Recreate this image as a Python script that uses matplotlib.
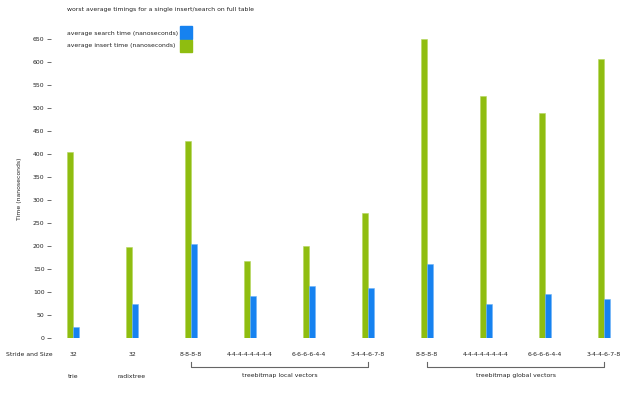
import numpy as np
import matplotlib
matplotlib.use('Agg')
import matplotlib.pyplot as plt
from matplotlib.patches import Rectangle
from matplotlib.transforms import blended_transform_factory

# ---- data ------------------------------------------------------------------
strides = ['32', '32', '8-8-8-8', '4-4-4-4-4-4-4-4', '6-6-6-6-4-4',
           '3-4-4-6-7-8', '8-8-8-8', '4-4-4-4-4-4-4-4', '6-6-6-6-4-4',
           '3-4-4-6-7-8']
insert_ns = [405, 198, 429, 168, 201, 272, 650, 526, 489, 607]
search_ns = [25, 75, 204, 92, 113, 108, 160, 75, 95, 85]
yticks = list(range(0, 651, 50))

single_labels = {0: 'trie', 1: 'radixtree'}
groups = [(2, 5, 'treebitmap local vectors'),
          (6, 9, 'treebitmap global vectors')]

title = 'worst average timings for a single insert/search on full table'
lab_search = 'average search time (nanoseconds)'
lab_insert = 'average insert time (nanoseconds)'

green = '#8fbd10'
blue = '#1682f0'
txt = '#222222'
fs = 4.4

W, H = 640, 396
fig = plt.figure(figsize=(W / 100, H / 100), dpi=100)
plt.rcParams['font.family'] = 'DejaVu Sans'


def fx(px):
    return px / W


def fy(py):
    return 1 - py / H


# axes: x index 0 at px 73, index 9 at px 604 -> 59 px per unit
ax_l, ax_r = 51, 640
ax_t, ax_b = 39, 338
ax = fig.add_axes([fx(ax_l), fy(ax_b), fx(ax_r - ax_l), (ax_b - ax_t) / H])
step = (604 - 73) / 9.0
ax.set_xlim(-(73 - ax_l) / step, 9 + (ax_r - 604) / step)
ax.set_ylim(0, 650)

x = np.arange(len(strides))
bw = 6.4 / step
ax.bar(x - bw / 2, insert_ns, bw, color=green, edgecolor='#b5d65c',
       linewidth=0.4)
ax.bar(x + bw / 2, search_ns, bw, color=blue, edgecolor='#6fb3f7',
       linewidth=0.4)

for s in ax.spines.values():
    s.set_visible(False)
ax.set_yticks(yticks)
ax.set_yticklabels([str(t) for t in yticks])
ax.tick_params(axis='y', length=3.2, width=0.6, color='#555555', pad=1.5,
               labelsize=fs, labelcolor=txt)
ax.set_xticks([])
ax.set_ylabel('Time (nanoseconds)', fontsize=fs, color=txt, labelpad=8)

# title and legend
fig.text(fx(67), fy(10), title, fontsize=fs, color=txt, va='center')
fig.text(fx(67), fy(33), lab_search, fontsize=fs, color=txt, va='center')
fig.text(fx(67), fy(45.5), lab_insert, fontsize=fs, color=txt, va='center')
fig.patches.append(Rectangle((fx(180), fy(39)), fx(12), 12.5 / H,
                             transform=fig.transFigure, color=blue))
fig.patches.append(Rectangle((fx(180), fy(52)), fx(12), 12.5 / H,
                             transform=fig.transFigure, color=green))

# x labels
tr = blended_transform_factory(ax.transData, fig.transFigure)
fig.text(fx(29), fy(355), 'Stride and Size', fontsize=fs, color=txt,
         ha='center', va='center')
for i, s in enumerate(strides):
    ax.text(i, fy(355), s, transform=tr, fontsize=fs, color=txt,
            ha='center', va='center', clip_on=False)
for i, s in single_labels.items():
    ax.text(i, fy(376), s, transform=tr, fontsize=fs, color=txt,
            ha='center', va='center', clip_on=False)
for a, b, s in groups:
    ax.plot([a, a, b, b], [fy(362), fy(367), fy(367), fy(362)],
            transform=tr, color='#666666', lw=0.8, clip_on=False)
    ax.text((a + b) / 2, fy(376), s, transform=tr, fontsize=fs, color=txt,
            ha='center', va='center', clip_on=False)

fig.savefig('out.png', dpi=100)
